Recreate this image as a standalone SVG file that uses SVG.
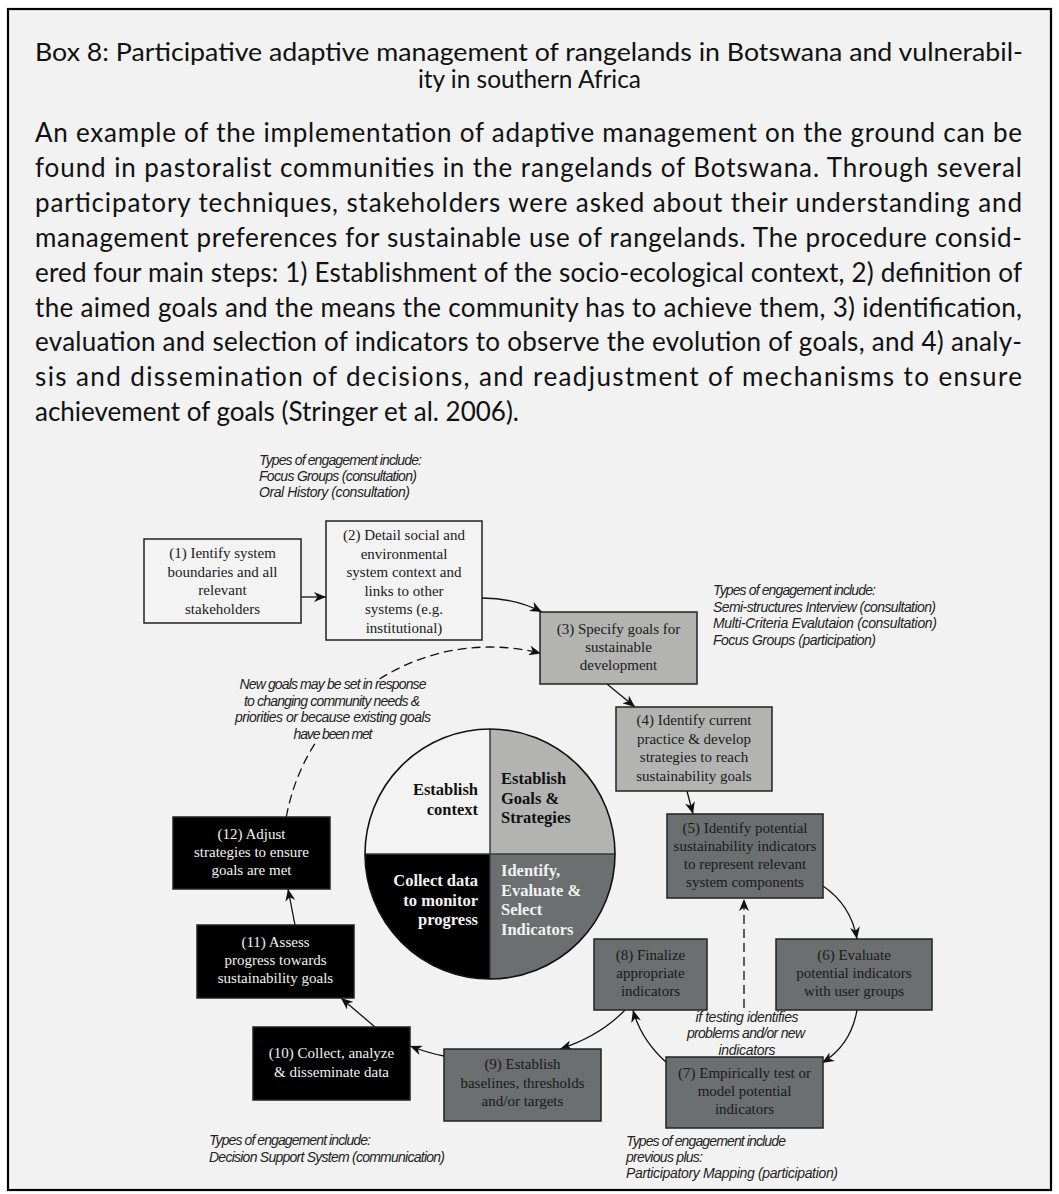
<svg xmlns="http://www.w3.org/2000/svg" width="1059" height="1194" viewBox="0 0 1059 1194">
<defs>
<marker id="ah" viewBox="0 0 12 10" refX="12" refY="5" markerWidth="12" markerHeight="10" markerUnits="userSpaceOnUse" orient="auto">
<path d="M0,0 L12,5 L0,10 L3.5,5 Z" fill="#111"/>
</marker>
<style>
.bt{font-family:Lato,"Liberation Sans",sans-serif;font-size:26px;fill:#111}
.tt{font-family:Lato,"Liberation Sans",sans-serif;font-size:24.5px;fill:#111}
.node rect{stroke:#222;stroke-width:1.5}
.n{font-family:"Liberation Serif","Times New Roman",serif;font-size:15px;text-anchor:middle;fill:#1a1a1a}
.w{fill:#f2f2f2}
.ann{font-family:"Liberation Sans",Arial,sans-serif;font-style:italic;font-size:14px;fill:#222}
.c{text-anchor:middle}
.pie{font-family:"Liberation Serif","Times New Roman",serif;font-weight:bold;font-size:16.5px}
.conn path{fill:none;stroke:#111;stroke-width:1.3}
.dash{stroke-dasharray:9 5}
.lg{fill:#b3b4b2}
.dg{fill:#6b6f70}
.bk{fill:#000}
.wt{fill:#f3f3f3}
</style>
</defs>
<rect x="0" y="0" width="1059" height="1194" fill="#ffffff"/>
<rect x="8" y="9" width="1043" height="1181" fill="#f2f2f2" stroke="#000" stroke-width="2.2"/>

<g id="header">
<text class="tt" x="35" y="61" textLength="988" lengthAdjust="spacingAndGlyphs">Box 8: Participative adaptive management of rangelands in Botswana and vulnerabil-</text>
<text class="tt" x="418" y="88" textLength="223" lengthAdjust="spacingAndGlyphs">ity in southern Africa</text>
<text class="bt" x="35" y="142" textLength="987">An example of the implementation of adaptive management on the ground can be</text>
<text class="bt" x="35" y="176.9" textLength="987">found in pastoralist communities in the rangelands of Botswana. Through several</text>
<text class="bt" x="35" y="211.8" textLength="987">participatory techniques, stakeholders were asked about their understanding and</text>
<text class="bt" x="35" y="246.7" textLength="987">management preferences for sustainable use of rangelands. The procedure consid-</text>
<text class="bt" x="35" y="281.6" textLength="987">ered four main steps: 1) Establishment of the socio-ecological context, 2) definition of</text>
<text class="bt" x="35" y="316.5" textLength="987">the aimed goals and the means the community has to achieve them, 3) identification,</text>
<text class="bt" x="35" y="351.4" textLength="987">evaluation and selection of indicators to observe the evolution of goals, and 4) analy-</text>
<text class="bt" x="35" y="386.3" textLength="987">sis and dissemination of decisions, and readjustment of mechanisms to ensure</text>
<text class="bt" x="35" y="421.2" textLength="484">achievement of goals (Stringer et al. 2006).</text>
</g>

<g id="pie">
<path d="M490,854 L365,854 A125,125 0 0,1 490,729 Z" class="wt"/>
<path d="M490,854 L490,729 A125,125 0 0,1 615,854 Z" class="lg"/>
<path d="M490,854 L615,854 A125,125 0 0,1 490,979 Z" class="dg"/>
<path d="M490,854 L490,979 A125,125 0 0,1 365,854 Z" class="bk"/>
<path d="M490,729 L490,979 M365,854 L615,854" stroke="#3a3a3a" stroke-width="1.5" fill="none"/>
<circle cx="490" cy="854" r="125" fill="none" stroke="#111" stroke-width="1.6"/>
<text class="pie" text-anchor="end" fill="#111"><tspan x="478" y="795">Establish</tspan><tspan x="478" y="815">context</tspan></text>
<text class="pie" fill="#111"><tspan x="501" y="784">Establish</tspan><tspan x="501" y="804">Goals &amp;</tspan><tspan x="501" y="823">Strategies</tspan></text>
<text class="pie" text-anchor="end" fill="#f2f2f2"><tspan x="478" y="886">Collect data</tspan><tspan x="478" y="906">to monitor</tspan><tspan x="478" y="925">progress</tspan></text>
<text class="pie" fill="#f2f2f2"><tspan x="501" y="876">Identify,</tspan><tspan x="501" y="896">Evaluate &amp;</tspan><tspan x="501" y="915">Select</tspan><tspan x="501" y="935">Indicators</tspan></text>
</g>

<g class="conn">
<path d="M301,597 L326,597" marker-end="url(#ah)"/>
<path d="M482,598 Q515,598 542,612" marker-end="url(#ah)"/>
<path d="M607,684 L635,707" marker-end="url(#ah)"/>
<path d="M687,791 L693,814" marker-end="url(#ah)"/>
<path d="M823,886 Q851,905 857,939" marker-end="url(#ah)"/>
<path class="dash" d="M744,1008 L744,899" marker-end="url(#ah)"/>
<path d="M857,1010 Q851,1045 822,1063" marker-end="url(#ah)"/>
<path d="M667,1063 Q641,1040 633,1010" marker-end="url(#ah)"/>
<path d="M625,1010 Q600,1036 560,1049" marker-end="url(#ah)"/>
<path d="M444,1056 Q428,1053 410,1046" marker-end="url(#ah)"/>
<path d="M375,1027 L341,998" marker-end="url(#ah)"/>
<path d="M295,925 L288,889" marker-end="url(#ah)"/>
<path class="dash" d="M286.3,817 A207,207 0 0,1 315.2,743.1"/>
<path class="dash" d="M379.5,679 A207,207 0 0,1 541,653.4" marker-end="url(#ah)"/>
</g>

<g id="n1" class="node"><rect x="144" y="539" width="157" height="84" class="wt"/>
<text class="n"><tspan x="222.5" y="558">(1) Ientify system</tspan><tspan x="222.5" y="576.5">boundaries and all</tspan><tspan x="222.5" y="595">relevant</tspan><tspan x="222.5" y="613.5">stakeholders</tspan></text></g>
<g id="n2" class="node"><rect x="326" y="521" width="156" height="119" class="wt"/>
<text class="n"><tspan x="404" y="540">(2) Detail social and</tspan><tspan x="404" y="558.5">environmental</tspan><tspan x="404" y="577">system context and</tspan><tspan x="404" y="595.5">links to other</tspan><tspan x="404" y="614">systems (e.g.</tspan><tspan x="404" y="632.5">institutional)</tspan></text></g>
<g id="n3" class="node"><rect x="540" y="612" width="157" height="72" class="lg"/>
<text class="n"><tspan x="618.5" y="634">(3) Specify goals for</tspan><tspan x="618.5" y="652">sustainable</tspan><tspan x="618.5" y="670">development</tspan></text></g>
<g id="n4" class="node"><rect x="616" y="707" width="156" height="84" class="lg"/>
<text class="n"><tspan x="694" y="725">(4) Identify current</tspan><tspan x="694" y="743.5">practice &amp; develop</tspan><tspan x="694" y="762">strategies to reach</tspan><tspan x="694" y="780.5">sustainability goals</tspan></text></g>
<g id="n5" class="node"><rect x="667" y="814" width="156" height="84" class="dg"/>
<text class="n"><tspan x="745" y="833">(5) Identify potential</tspan><tspan x="745" y="851">sustainability indicators</tspan><tspan x="745" y="869">to represent relevant</tspan><tspan x="745" y="887">system components</tspan></text></g>
<g id="n6" class="node"><rect x="776" y="939" width="156" height="71" class="dg"/>
<text class="n"><tspan x="854" y="960">(6) Evaluate</tspan><tspan x="854" y="978">potential indicators</tspan><tspan x="854" y="996">with user groups</tspan></text></g>
<g id="n7" class="node"><rect x="666" y="1057" width="157" height="71" class="dg"/>
<text class="n"><tspan x="744.5" y="1078">(7) Empirically test or</tspan><tspan x="744.5" y="1096">model potential</tspan><tspan x="744.5" y="1114">indicators</tspan></text></g>
<g id="n8" class="node"><rect x="594" y="939" width="113" height="71" class="dg"/>
<text class="n"><tspan x="650.5" y="960">(8) Finalize</tspan><tspan x="650.5" y="978">appropriate</tspan><tspan x="650.5" y="996">indicators</tspan></text></g>
<g id="n9" class="node"><rect x="444" y="1049" width="157" height="72" class="dg"/>
<text class="n"><tspan x="522.5" y="1069">(9) Establish</tspan><tspan x="522.5" y="1088">baselines, thresholds</tspan><tspan x="522.5" y="1106">and/or targets</tspan></text></g>
<g id="n10" class="node"><rect x="253" y="1027" width="157" height="73" class="bk"/>
<text class="n w"><tspan x="331.5" y="1058">(10) Collect, analyze</tspan><tspan x="331.5" y="1077">&amp; disseminate data</tspan></text></g>
<g id="n11" class="node"><rect x="197" y="925" width="157" height="73" class="bk"/>
<text class="n w"><tspan x="275.5" y="947">(11) Assess</tspan><tspan x="275.5" y="965">progress towards</tspan><tspan x="275.5" y="983">sustainability goals</tspan></text></g>
<g id="n12" class="node"><rect x="173" y="817" width="157" height="72" class="bk"/>
<text class="n w"><tspan x="251.5" y="839">(12) Adjust</tspan><tspan x="251.5" y="857">strategies to ensure</tspan><tspan x="251.5" y="875">goals are met</tspan></text></g>

<g id="annotations">
<text class="ann" x="259" y="465" textLength="163">Types of engagement include:</text>
<text class="ann" x="259" y="481" textLength="158">Focus Groups (consultation)</text>
<text class="ann" x="259" y="497" textLength="151">Oral History (consultation)</text>
<text class="ann" x="713" y="595" textLength="163">Types of engagement include:</text>
<text class="ann" x="713" y="611.5" textLength="223">Semi-structures Interview (consultation)</text>
<text class="ann" x="713" y="628" textLength="224">Multi-Criteria Evalutaion (consultation)</text>
<text class="ann" x="713" y="644.5" textLength="163">Focus Groups (participation)</text>
<text class="ann c" x="333" y="689" textLength="187">New goals may be set in response</text>
<text class="ann c" x="332" y="706" textLength="176">to changing community needs &amp;</text>
<text class="ann c" x="333" y="722" textLength="196">priorities or because existing goals</text>
<text class="ann c" x="333" y="739" textLength="79">have been met</text>
<text class="ann c" x="747" y="1022" textLength="103">if testing identifies</text>
<text class="ann c" x="746" y="1038" textLength="118">problems and/or new</text>
<text class="ann c" x="747" y="1055" textLength="57">indicators</text>
<text class="ann" x="209" y="1145" textLength="162">Types of engagement include:</text>
<text class="ann" x="209" y="1162" textLength="236">Decision Support System (communication)</text>
<text class="ann" x="626" y="1146" textLength="160">Types of engagement include</text>
<text class="ann" x="626" y="1162" textLength="77">previous plus:</text>
<text class="ann" x="626" y="1178" textLength="212">Participatory Mapping (participation)</text>
</g>
</svg>
